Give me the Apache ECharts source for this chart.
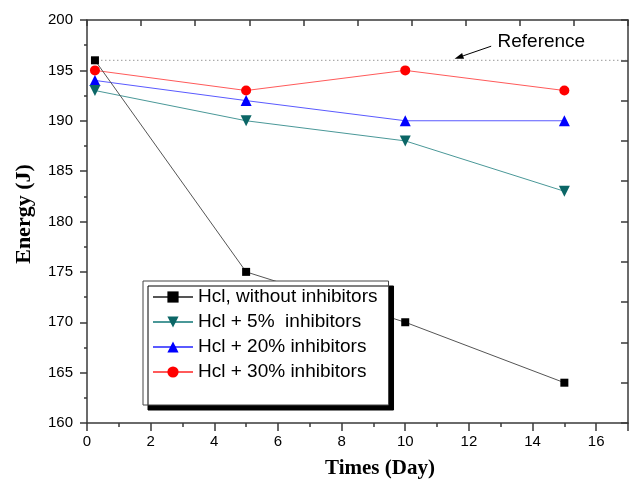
<!DOCTYPE html>
<html>
<head>
<meta charset="utf-8">
<script src="https://cdn.jsdelivr.net/npm/echarts@6/dist/echarts.min.js"></script>
<style>
html,body{margin:0;padding:0;background:#fff;}
#main{width:631px;height:484px;}
</style>
</head>
<body>
<div id="main"></div>
<script>
// ---- data ----
var days = [0.25, 5, 10, 15];
var seriesNames = ['Hcl, without inhibitors', 'Hcl + 5%  inhibitors', 'Hcl + 20% inhibitors', 'Hcl + 30% inhibitors'];
var noInhibitor = [196, 175, 170, 164];
var inhib5 = [193, 190, 188, 183];
var inhib20 = [194, 192, 190, 190];
var inhib30 = [195, 193, 195, 193];
var referenceValue = 196;
var referenceStart = 0.45;
var referenceLabel = 'Reference';
var xTitle = 'Times (Day)';
var yTitle = 'Energy (J)';

function pairs(vals) { return days.map(function (d, i) { return [d, vals[i]]; }); }

var chart = echarts.init(document.getElementById('main'), null, {renderer: 'canvas'});
var axisColor = '#3a3a3a';
var tickFont = {fontFamily: 'Liberation Sans, Arial, sans-serif', fontSize: 15, color: '#000'};

var option = {
  animation: false,
  backgroundColor: '#fff',
  grid: {left: 87, right: 3, top: 20, bottom: 61, containLabel: false},
  xAxis: [{
    type: 'value', min: 0, max: 17, interval: 2, position: 'bottom',
    axisLine: {show: true, onZero: false, lineStyle: {color: axisColor, width: 1.5}},
    axisTick: {show: true, inside: false, length: 8, lineStyle: {color: axisColor, width: 1.5}},
    minorTick: {show: true, splitNumber: 2, length: 4, lineStyle: {color: axisColor, width: 1.5}},
    axisLabel: Object.assign({margin: 11, showMaxLabel: false, formatter: function (v) { return v > 16 ? '' : String(v); }}, tickFont),
    splitLine: {show: false}
  }, {
    type: 'value', min: 0, max: 17, interval: 1.7, position: 'top',
    axisLine: {show: true, onZero: false, lineStyle: {color: axisColor, width: 1.5}},
    axisTick: {show: true, inside: true, length: 6, lineStyle: {color: axisColor, width: 1.5}},
    axisLabel: {show: false},
    splitLine: {show: false}
  }],
  yAxis: [{
    type: 'value', min: 160, max: 200, interval: 5, position: 'left',
    axisLine: {show: true, onZero: false, lineStyle: {color: axisColor, width: 1.5}},
    axisTick: {show: true, inside: false, length: 7, lineStyle: {color: axisColor, width: 1.5}},
    minorTick: {show: true, splitNumber: 2, length: 3, lineStyle: {color: axisColor, width: 1.5}},
    axisLabel: Object.assign({margin: 14}, tickFont),
    splitLine: {show: false}
  }, {
    type: 'value', min: 160, max: 200, interval: 4, position: 'right',
    axisLine: {show: true, onZero: false, lineStyle: {color: axisColor, width: 1.5}},
    axisTick: {show: true, inside: true, length: 7, lineStyle: {color: axisColor, width: 1.5}},
    axisLabel: {show: false},
    splitLine: {show: false}
  }],
  legend: {
    data: seriesNames,
    orient: 'vertical',
    left: 143, top: 281,
    padding: [6, 11, 23, 9],
    itemWidth: 40, itemHeight: 14, itemGap: 5,
    backgroundColor: '#fff',
    borderColor: '#444', borderWidth: 1,
    shadowColor: '#000', shadowBlur: 0, shadowOffsetX: 5, shadowOffsetY: 5,
    textStyle: {fontFamily: 'Liberation Sans, Arial, sans-serif', fontSize: 19, color: '#000', lineHeight: 20},
    selectedMode: false
  },
  series: [{
    name: 'Reference line', type: 'line', data: [[referenceStart, referenceValue], [17, referenceValue]],
    symbol: 'none', lineStyle: {color: '#666', width: 1, type: [1, 3]}, silent: true, z: 1
  }, {
    name: seriesNames[3], type: 'line', data: pairs(inhib30),
    symbol: 'circle', symbolSize: 10,
    itemStyle: {color: '#ff0000'}, lineStyle: {color: '#ff5a5a', width: 1}, z: 2
  }, {
    name: seriesNames[2], type: 'line', data: pairs(inhib20),
    symbol: 'triangle', symbolSize: 11,
    itemStyle: {color: '#0000ff'}, lineStyle: {color: '#5a5aff', width: 1}, z: 2
  }, {
    name: seriesNames[1], type: 'line', data: pairs(inhib5),
    symbol: 'triangle', symbolRotate: 180, symbolSize: 11,
    itemStyle: {color: '#0b6666'}, lineStyle: {color: '#4a9898', width: 1}, z: 2
  }, {
    name: seriesNames[0], type: 'line', data: pairs(noInhibitor),
    symbol: 'rect', symbolSize: 8,
    itemStyle: {color: '#000'}, lineStyle: {color: '#555', width: 1}, z: 3
  }]
};
chart.setOption(option);

// annotation + axis titles positioned from data coordinates
var arrowFrom = chart.convertToPixel({xAxisIndex: 0, yAxisIndex: 0}, [12.7, 197.4]);
var arrowTo = chart.convertToPixel({xAxisIndex: 0, yAxisIndex: 0}, [11.55, 196.15]);
var labelPos = chart.convertToPixel({xAxisIndex: 0, yAxisIndex: 0}, [12.9, 197.7]);
var ang = Math.atan2(arrowTo[1] - arrowFrom[1], arrowTo[0] - arrowFrom[0]);
var ah = 9, aw = 3;
var tip = arrowTo;
var baseX = tip[0] - ah * Math.cos(ang), baseY = tip[1] - ah * Math.sin(ang);
var px = -Math.sin(ang) * aw, py = Math.cos(ang) * aw;

chart.setOption({
  graphic: [{
    type: 'line', shape: {x1: arrowFrom[0], y1: arrowFrom[1], x2: baseX, y2: baseY},
    style: {stroke: '#000', lineWidth: 1}
  }, {
    type: 'polygon', shape: {points: [[tip[0], tip[1]], [baseX + px, baseY + py], [baseX - px, baseY - py]]},
    style: {fill: '#000'}
  }, {
    type: 'text', left: labelPos[0], top: labelPos[1] - 11,
    style: {text: referenceLabel, font: '19px "Liberation Sans", Arial, sans-serif', fill: '#000'}
  }, {
    type: 'text', x: 380, y: 469,
    style: {text: xTitle, font: 'bold 21px "Liberation Serif", "Times New Roman", serif', fill: '#000', align: 'center', verticalAlign: 'middle'}
  }, {
    type: 'text', x: 24, y: 214, rotation: Math.PI / 2,
    style: {text: yTitle, font: 'bold 22px "Liberation Serif", "Times New Roman", serif', fill: '#000', align: 'center', verticalAlign: 'middle'}
  }]
});
</script>
</body>
</html>
